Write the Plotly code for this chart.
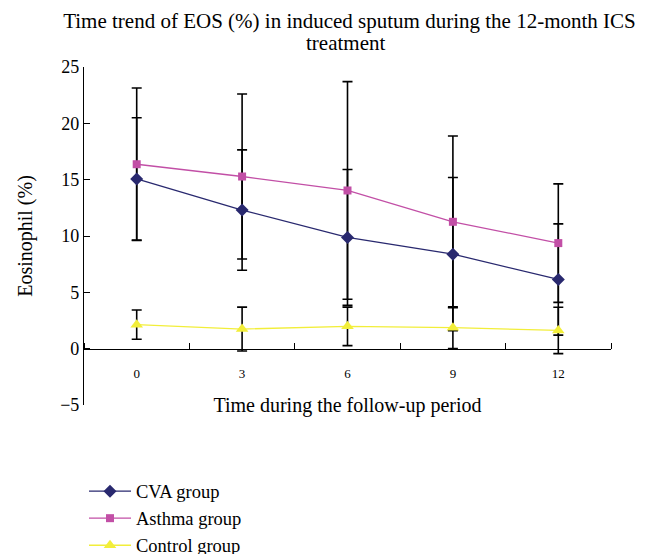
import plotly.graph_objects as go

months = [0, 3, 6, 9, 12]
cva = [15.07, 12.3, 9.87, 8.39, 6.14]
cva_err = [5.43, 5.34, 6.03, 6.8, 4.94]
asthma = [16.37, 15.28, 14.04, 11.26, 9.37]
asthma_err = [6.77, 7.32, 9.66, 7.62, 5.26]
control = [2.13, 1.74, 1.98, 1.86, 1.62]
control_err = [1.3, 1.95, 1.71, 1.85, 2.06]

series = [
    ("CVA group", cva, cva_err, "#29296F", "diamond", 10),
    ("Asthma group", asthma, asthma_err, "#C24FA6", "square", 8),
    ("Control group", control, control_err, "#F2EE3A", "triangle-up", 11),
]

FONT = "Liberation Serif"
fig = go.Figure()
# error bars first so that all lines and markers sit on top
for name, vals, errs, col, sym, sz in series:
    fig.add_trace(go.Scatter(
        x=months, y=vals, mode="markers", showlegend=False, hoverinfo="skip",
        marker=dict(size=2, opacity=0, color=col),
        error_y=dict(type="data", array=errs, visible=True, color="black",
                     thickness=1.6, width=5),
    ))
for name, vals, errs, col, sym, sz in series:
    fig.add_trace(go.Scatter(
        x=months, y=vals, name=name, mode="lines+markers",
        line=dict(color=col, width=1.3),
        marker=dict(symbol=sym, size=sz, color=col),
    ))

fig.update_layout(
    width=646, height=554,
    margin=dict(l=84, r=35, t=67, b=149, autoexpand=False),
    plot_bgcolor="white", paper_bgcolor="white",
    font=dict(family=FONT, color="black", size=18),
    title=dict(text="Time trend of EOS (%) in induced sputum during the 12-month ICS",
               x=0.541, xanchor="center", yref="container", y=1 - 21 / 554, yanchor="middle",
               font=dict(family=FONT, size=21)),
    annotations=[dict(text="treatment", xref="paper", yref="paper",
                      x=0.497, y=(405 - 43.5) / 338, xanchor="center", yanchor="middle",
                      showarrow=False, font=dict(family=FONT, size=21))],
    showlegend=True,
    legend=dict(x=0.0, y=-0.2, xanchor="left", yanchor="top", itemwidth=42,
                font=dict(family=FONT, size=18.5), tracegroupgap=0,
                bgcolor="rgba(0,0,0,0)"),
)
fig.update_xaxes(
    range=[-1.5, 13.5], tickvals=months, ticktext=[str(m) for m in months],
    ticks="", showgrid=False, zeroline=False,
    showline=True, linecolor="black", linewidth=1.2,
    anchor="free", position=1 / 6, ticklabelstandoff=13,
    tickfont=dict(family=FONT, size=13),
    minor=dict(tick0=-1.5, dtick=3, ticks="inside", ticklen=6, tickcolor="black", showgrid=False),
    title=dict(text="Time during the follow-up period", font=dict(family=FONT, size=20), standoff=17),
)
fig.update_yaxes(
    range=[-5, 25], dtick=5, tick0=0, ticks="inside", ticklen=6, tickcolor="black",
    showgrid=False, zeroline=False, showline=True, linecolor="black", linewidth=1.2,
    tickfont=dict(family=FONT, size=18),
    title=dict(text="Eosinophil (%)", font=dict(family=FONT, size=20), standoff=22),
)
fig.write_html("out.html")
